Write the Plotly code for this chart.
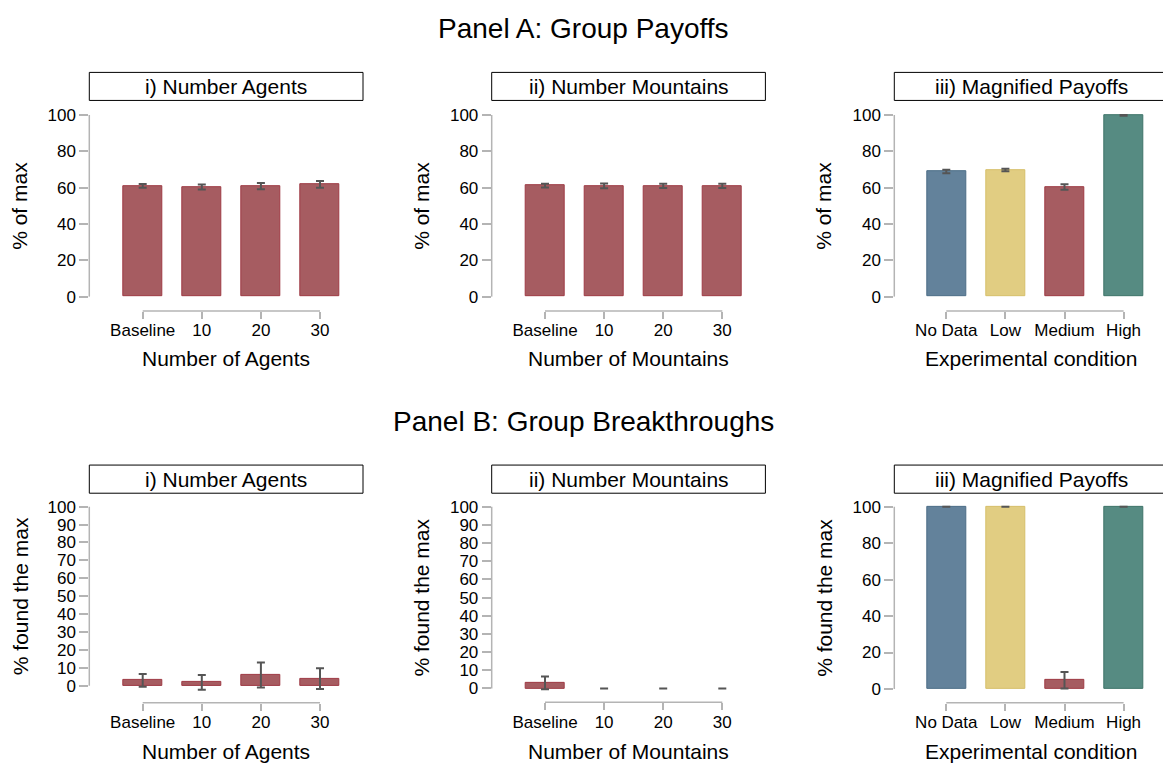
import plotly.graph_objects as go

# ---------------- data ----------------
size_cats = ["Baseline", "10", "20", "30"]
cond_cats = ["No Data", "Low", "Medium", "High"]

payoff_agents = [61.0, 60.4, 60.8, 61.8]
payoff_agents_err = [1.0, 1.4, 1.7, 1.8]
payoff_mountains = [61.1, 61.0, 61.0, 61.0]
payoff_mountains_err = [1.0, 1.3, 1.2, 1.2]
payoff_magnified = [68.9, 69.7, 60.4, 99.8]
payoff_magnified_err = [0.9, 0.7, 1.5, 0.2]

found_agents = [3.0, 1.9, 6.0, 4.0]
found_agents_err = [3.6, 4.1, 7.0, 5.8]
found_mountains = [3.0, 0.0, 0.0, 0.0]
found_mountains_err = [3.5, 0.0, 0.0, 0.0]
found_magnified = [100.0, 100.0, 4.8, 100.0]
found_magnified_err = [0.0, 0.0, 4.5, 0.0]

# ---------------- style ----------------
W, H = 1163, 765
FONT = "Liberation Sans"
AXIS_GREY = "#b4b4b4"
ERR_GREY = "#555555"
RED = ("#a65c61", "#9e3a44")
BLUE = ("#63829b", "#4c6d87")
YELLOW = ("#e1cd82", "#d6bf6a")
TEAL = ("#568b82", "#3e7469")

red_fill = [RED[0]] * 4
red_line = [RED[1]] * 4
cond_fill = [BLUE[0], YELLOW[0], RED[0], TEAL[0]]
cond_line = [BLUE[1], YELLOW[1], RED[1], TEAL[1]]

# column geometry in pixels: y-axis line x, first category x
COLS = [(89.3, 142.7), (491.7, 545.0), (894.3, 946.3)]
CAT_STEP = 59.1
PANEL_W = 273.7

fig = go.Figure()
shapes, annotations = [], []


def add_panel(idx, col, rowgeo, cats, vals, errs, fills, lines,
              title, xtitle, ytitle, dtick, box_y, ytitle_x):
    left, c0 = COLS[col]
    right = min(left + PANEL_W, W)
    y0px, y100px, xline_px, xtitle_px = rowgeo
    scale = (y0px - y100px) / 100.0
    ybot = -(xline_px - y0px) / scale
    ytop = 101.0
    top_px = y100px - scale * (ytop - 100)
    xr = [(left - c0) / CAT_STEP, (right - c0) / CAT_STEP]

    xa = "x" if idx == 1 else f"x{idx}"
    ya = "y" if idx == 1 else f"y{idx}"
    xkey = "xaxis" if idx == 1 else f"xaxis{idx}"
    ykey = "yaxis" if idx == 1 else f"yaxis{idx}"

    # empty bars get no outline, only their (zero-length) error caps show
    outline_w = [1 if v > 0 else 0 for v in vals]

    fig.add_trace(go.Bar(
        x=cats, y=vals, width=0.66,
        marker=dict(color=fills, line=dict(color=lines, width=outline_w)),
        error_y=dict(type="data", array=errs, visible=True,
                     color=ERR_GREY, thickness=2, width=4),
        xaxis=xa, yaxis=ya, showlegend=False,
    ))

    fig.layout[xkey] = dict(
        domain=[left / W, right / W], anchor=ya, type="category",
        categoryorder="array", categoryarray=cats,
        range=xr, showline=False, showgrid=False, zeroline=False,
        ticks="outside", ticklen=7, tickwidth=1.5, tickcolor=AXIS_GREY,
        ticklabelstandoff=-3,
        tickfont=dict(family=FONT, size=17, color="black"),
    )
    fig.layout[ykey] = dict(
        domain=[(H - xline_px) / H, (H - top_px) / H], anchor=xa,
        range=[ybot, ytop], showline=False, showgrid=False, zeroline=False,
        tickmode="linear", tick0=0, dtick=dtick,
        ticks="outside", ticklen=9, tickwidth=1.5, tickcolor=AXIS_GREY,
        tickfont=dict(family=FONT, size=17, color="black"),
    )
    # Stata-style axis lines spanning only the data extent
    shapes.append(dict(type="line", xref=f"{xa} domain", yref=ya,
                       x0=0, x1=0, y0=0, y1=100,
                       line=dict(color=AXIS_GREY, width=1.5)))
    shapes.append(dict(type="line", xref=xa, yref=f"{ya} domain",
                       x0=0, x1=len(cats) - 1, y0=0, y1=0,
                       line=dict(color=AXIS_GREY, width=1.5)))
    # subtitle box
    bx1 = left + PANEL_W
    shapes.append(dict(type="rect", xref="paper", yref="paper",
                       x0=left / W, x1=bx1 / W,
                       y0=(H - box_y[1]) / H, y1=(H - box_y[0]) / H,
                       line=dict(color="black", width=1), fillcolor="white"))
    annotations.append(dict(
        text=title, xref="paper", yref="paper",
        x=(left + PANEL_W / 2) / W, y=(H - (box_y[0] + box_y[1]) / 2) / H,
        xanchor="center", yanchor="middle", showarrow=False,
        font=dict(family=FONT, size=21, color="black")))
    annotations.append(dict(
        text=xtitle, xref="paper", yref="paper",
        x=(left + PANEL_W / 2) / W, y=(H - xtitle_px) / H,
        xanchor="center", yanchor="middle", showarrow=False,
        font=dict(family=FONT, size=21, color="black")))
    annotations.append(dict(
        text=ytitle, xref="paper", yref="paper", textangle=-90,
        x=ytitle_x / W, y=(H - (y0px + y100px) / 2) / H,
        xanchor="center", yanchor="middle", showarrow=False,
        font=dict(family=FONT, size=21, color="black")))


# row geometry: (y=0 px, y=100 px, x-axis px, x-title px)
ROW_A = (292.3, 109.0, 306.7, 355.0)
BOX_A = (66.0, 94.3)
BOX_B = (462.3, 490.7)

add_panel(1, 0, ROW_A, size_cats, payoff_agents, payoff_agents_err,
          red_fill, red_line, "i) Number Agents", "Number of Agents",
          "% of max", 20, BOX_A, 20)
add_panel(2, 1, ROW_A, size_cats, payoff_mountains, payoff_mountains_err,
          red_fill, red_line, "ii) Number Mountains", "Number of Mountains",
          "% of max", 20, BOX_A, 422)
add_panel(3, 2, ROW_A, cond_cats, payoff_magnified, payoff_magnified_err,
          cond_fill, cond_line, "iii) Magnified Payoffs", "Experimental condition",
          "% of max", 20, BOX_A, 824)
add_panel(4, 0, (685.0, 504.3, 702.3, 751.7), size_cats, found_agents,
          found_agents_err, red_fill, red_line, "i) Number Agents",
          "Number of Agents", "% found the max", 10, BOX_B, 20)
add_panel(5, 1, (687.7, 504.3, 701.7, 751.7), size_cats, found_mountains,
          found_mountains_err, red_fill, red_line, "ii) Number Mountains",
          "Number of Mountains", "% found the max", 10, BOX_B, 422)
add_panel(6, 2, (688.3, 504.3, 702.3, 751.7), cond_cats, found_magnified,
          found_magnified_err, cond_fill, cond_line, "iii) Magnified Payoffs",
          "Experimental condition", "% found the max", 20, BOX_B, 825)

for txt, ypx in [("Panel A: Group Payoffs", 22), ("Panel B: Group Breakthroughs", 418)]:
    annotations.append(dict(
        text=txt, xref="paper", yref="paper", x=583 / W, y=(H - ypx) / H,
        xanchor="center", yanchor="middle", showarrow=False,
        font=dict(family=FONT, size=28, color="black")))

fig.update_layout(
    width=W, height=H, margin=dict(l=0, r=0, t=0, b=0),
    paper_bgcolor="white", plot_bgcolor="white",
    shapes=shapes, annotations=annotations, bargap=0,
    font=dict(family=FONT, color="black"),
)

fig.write_html("out.html")
